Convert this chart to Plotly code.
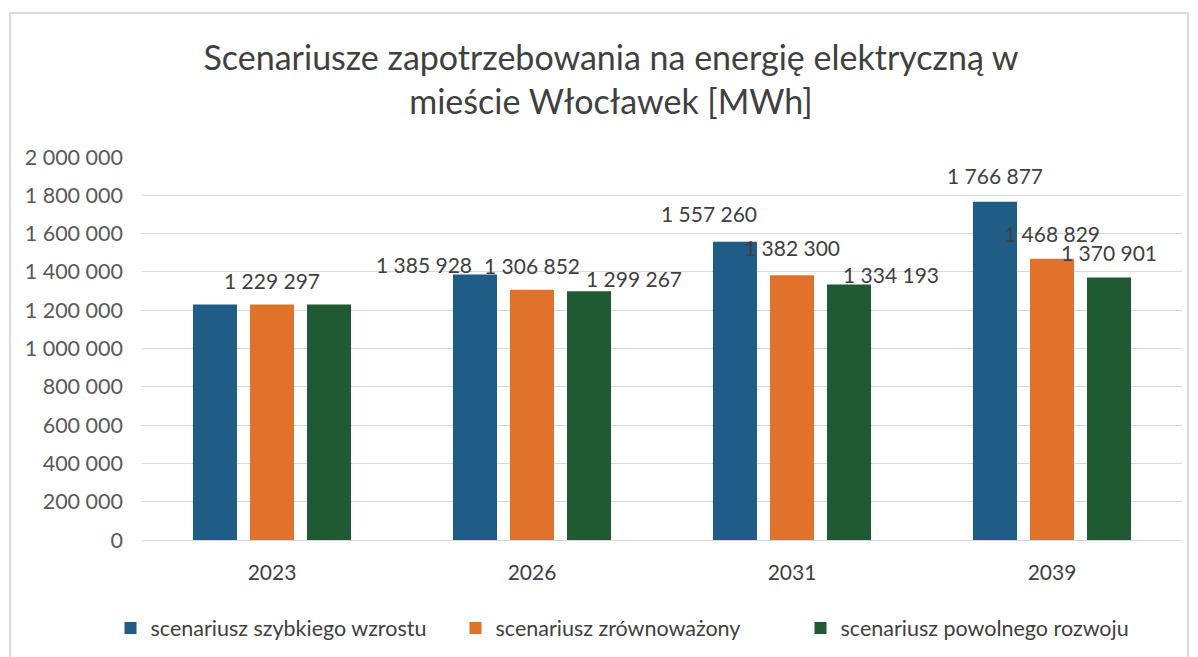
import plotly.graph_objects as go

years = ["2023", "2026", "2031", "2039"]
series_names = ["scenariusz szybkiego wzrostu", "scenariusz zrównoważony", "scenariusz powolnego rozwoju"]
fast = [1229297, 1385928, 1557260, 1766877]
balanced = [1229297, 1306852, 1382300, 1468829]
slow = [1229297, 1299267, 1334193, 1370901]
y_ticks = [0, 200000, 400000, 600000, 800000, 1000000, 1200000, 1400000, 1600000, 1800000, 2000000]

values = [fast, balanced, slow]
colors = ["#1f5c86", "#e0722b", "#1f5a32"]

# label placement styles (pixel offsets), per series per category
label_show = [[False, True, True, True], [True, True, True, True], [False, True, True, True]]
label_dx = [[0, -51, -26, 0], [0, 0, 0, 0], [0, 45, 42, 0]]
label_dy = [[24, 10, 28, 26], [24, 24, 28, 25], [24, 13, 10, 25]]
slot_px = 57

W, H = 1190, 649
PL, PR, PT, PB = 134, 1174, 149, 532  # plot area in figure pixels

def fmt(v):
    return f"{v:,}".replace(",", " ")

fig = go.Figure()
for i, (name, vals, col) in enumerate(zip(series_names, values, colors)):
    fig.add_trace(go.Bar(name=name, x=years, y=vals, marker=dict(color=col, line=dict(width=0))))

annotations = []
for i, vals in enumerate(values):
    for j, v in enumerate(vals):
        if not label_show[i][j]:
            continue
        annotations.append(dict(
            x=j, y=v, xref="x", yref="y", text=fmt(v), showarrow=False,
            xanchor="center", yanchor="middle",
            xshift=(i - 1) * slot_px + label_dx[i][j], yshift=label_dy[i][j],
            font=dict(family="Lato", size=21, color="#404040"),
        ))

pw, ph = PR - PL, PB - PT
fig.update_layout(
    width=W, height=H,
    margin=dict(l=PL, r=W - PR, t=PT, b=H - PB, autoexpand=False),
    paper_bgcolor="white", plot_bgcolor="white",
    separators=", ",
    barmode="group", bargap=0.342, bargroupgap=0.228,
    title=dict(
        text="Scenariusze zapotrzebowania na energię elektryczną w<br>mieście Włocławek [MWh]",
        x=603 / W, xref="container", xanchor="center",
        y=1 - 62 / H, yref="container", yanchor="middle",
        font=dict(family="Lato", size=34, color="#404040"),
    ),
    font=dict(family="Lato", color="#595959"),
    xaxis=dict(
        type="category", range=[-0.5, 3.5],
        showgrid=False, showline=False, ticks="", ticklabelstandoff=18,
        tickfont=dict(family="Lato", size=21, color="#404040"),
    ),
    yaxis=dict(
        range=[0, 2000000], tickvals=y_ticks, tickformat=",d",
        showgrid=True, gridcolor="#d9d9d9", gridwidth=1.3,
        zeroline=True, zerolinecolor="#d9d9d9", zerolinewidth=1.3,
        showline=False, ticks="", ticklabelstandoff=18,
        tickfont=dict(family="Lato", size=21.5, color="#595959"),
    ),
    legend=dict(
        orientation="h", xref="container", yref="container",
        x=620 / W, xanchor="center", y=1 - 620 / H, yanchor="middle",
        font=dict(family="Lato", size=21.5, color="#404040"),
        itemwidth=30, entrywidth=300, entrywidthmode="pixels",
    ),
    annotations=annotations,
    shapes=[dict(
        type="rect", xref="paper", yref="paper",
        x0=(2 - PL) / pw, x1=(1180 - PL) / pw,
        y0=(PB - 700) / ph, y1=(PB - 5) / ph,
        line=dict(color="#d0d0d0", width=1.5), fillcolor="rgba(0,0,0,0)", layer="below",
    )],
)

fig.write_html("out.html")
